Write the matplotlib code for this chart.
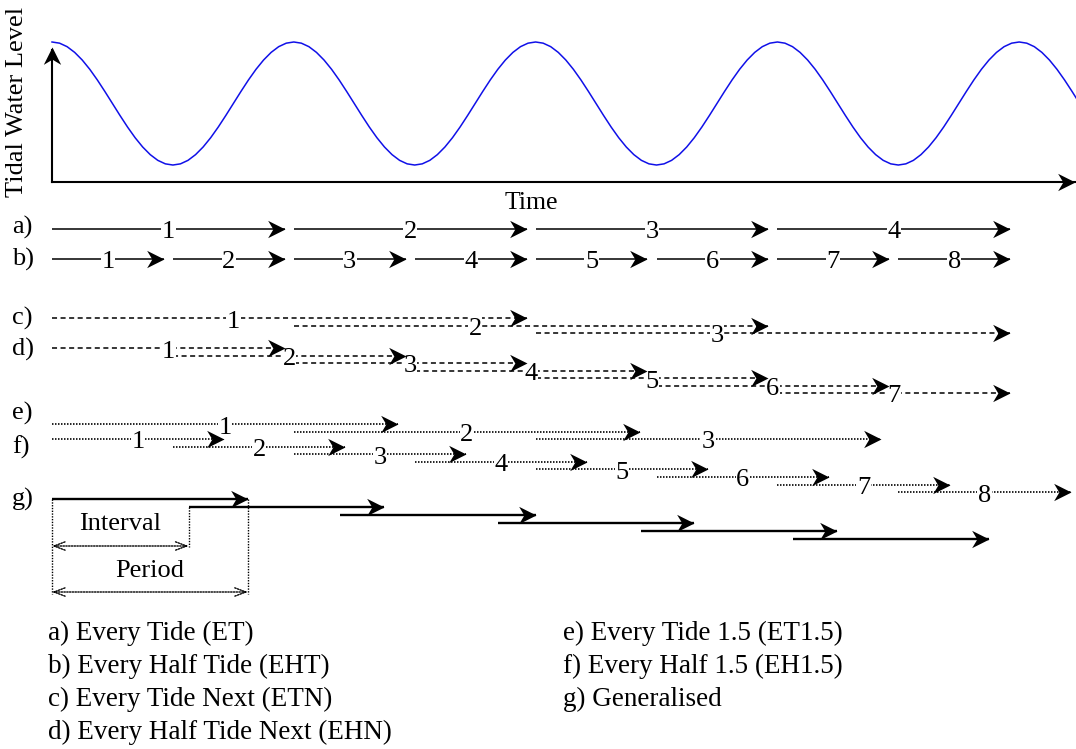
import numpy as np
import matplotlib
matplotlib.use("Agg")
import matplotlib.pyplot as plt
from matplotlib.path import Path
from matplotlib.markers import MarkerStyle

plt.rcParams['font.family'] = ['Liberation Serif', 'DejaVu Serif']

# ---------------- data (time in half-tide units, 0 = first high water) -------------
# one tidal cycle (high -> low -> high), sampled every 1/16 half-tide
tide_cycle_level = [1.0, 0.981, 0.924, 0.831, 0.707, 0.556, 0.383, 0.195,
                    0.0, -0.195, -0.383, -0.556, -0.707, -0.831, -0.924, -0.981,
                    -1.0, -0.981, -0.924, -0.831, -0.707, -0.556, -0.383, -0.195,
                    0.0, 0.195, 0.383, 0.556, 0.707, 0.831, 0.924, 0.981]
tide_cycle_length = 2.0   # half-tides per tidal cycle
n_cycles = 5

a_starts = [0, 2, 4, 6]
a_span = 2
a_labels = ['1', '2', '3', '4']

b_starts = [0, 1, 2, 3, 4, 5, 6, 7]
b_span = 1
b_labels = ['1', '2', '3', '4', '5', '6', '7', '8']

c_starts = [0, 2, 4]
c_span = 4
c_label_offset = 1.5
c_labels = ['1', '2', '3']

d_starts = [0, 1, 2, 3, 4, 5, 6]
d_span = 2
d_labels = ['1', '2', '3', '4', '5', '6', '7']

e_starts = [0, 2, 4]
e_span = 3
e_labels = ['1', '2', '3']

f_starts = [0, 1, 2, 3, 4, 5, 6, 7]
f_span = 1.5
f_labels = ['1', '2', '3', '4', '5', '6', '7', '8']

g_starts = [0, 1.13, 2.38, 3.69, 4.87, 6.13]
g_span = 1.62
g_interval = 1.13
g_period = 1.62

legend_left = ['a) Every Tide (ET)', 'b) Every Half Tide (EHT)',
               'c) Every Tide Next (ETN)', 'd) Every Half Tide Next (EHN)']
legend_right = ['e) Every Tide 1.5 (ET1.5)', 'f) Every Half 1.5 (EH1.5)',
                'g) Generalised']

# ---------------- layout ----------------
W, H = 1076, 749
PX0, UNIT = 52, 120.9
xmin, xmax = -PX0 / UNIT, (W - PX0) / UNIT
FS = 19
GAP = 0.075

fig = plt.figure(figsize=(W / 100, H / 100), dpi=100)
ax = fig.add_axes([0, 0, 1, 1])
ax.set_xlim(xmin, xmax)
ax.set_ylim(H, 0)
ax.axis('off')

# tide axes
axis_y = 182
axt = fig.add_axes([0, (H - axis_y) / H, 1, 152 / H])
axt.set_xlim(xmin, xmax)
axt.set_ylim(-1.276, 1.195)
axt.axis('off')
n_s = len(tide_cycle_level)
t = []
lev = []
for c in range(n_cycles):
    for k, l in enumerate(tide_cycle_level):
        t.append(tide_cycle_length * (c + k / n_s))
        lev.append(l)
t.append(tide_cycle_length * n_cycles)
lev.append(tide_cycle_level[0])
axt.plot(t, lev, color='#1010e8', lw=1.1, zorder=2)

head_path = Path([(0, 0), (-1, 0.5), (-0.7, 0), (-1, -0.5), (0, 0)],
                 [Path.MOVETO, Path.LINETO, Path.LINETO, Path.LINETO, Path.CLOSEPOLY])
HEAD = MarkerStyle(head_path)
UP = MarkerStyle(head_path).rotated(deg=90)
MS = 25


def arrow(x0, x1, y, ls='-', lw=1.1, ms=MS):
    ax.plot([x0, x1], [y, y], color='k', lw=lw, ls=ls, solid_capstyle='butt',
            dash_capstyle='butt', zorder=2)
    ax.plot([x1], [y], marker=HEAD, ms=ms, color='k', mew=0, zorder=6)


def num(x, y, s):
    ax.text(x, y + 9.5, s, fontsize=FS, ha='center', va='baseline', zorder=4,
            bbox=dict(facecolor='white', edgecolor='none', pad=0.3))


# axes of the tide plot
ax.plot([0, 0], [axis_y, 50], color='k', lw=1.5, zorder=2)
ax.plot([0], [47], marker=UP, ms=MS, color='k', mew=0, zorder=6)
ax.plot([0, xmax], [axis_y, axis_y], color='k', lw=1.5, zorder=2)
ax.plot([xmax - 0.005], [axis_y], marker=HEAD, ms=MS, color='k', mew=0, zorder=6)
ax.text(-35 / UNIT, 102, 'Tidal Water Level', rotation=90, fontsize=FS,
        ha='center', va='center')
ax.text((531 - PX0) / UNIT, 203, 'Time', fontsize=18.5, ha='center', va='center')

# row letters
for lab, y in zip(['a)', 'b)', 'c)', 'd)', 'e)', 'f)', 'g)'],
                  [227, 259, 318, 349, 413, 447, 499]):
    ax.text(-40 / UNIT, y, lab, fontsize=FS, ha='left', va='center')

DASH = (0, (3.3, 2.3))
DOT = (0, (0.9, 0.9))

# a)
for s, lab in zip(a_starts, a_labels):
    e = s + a_span - GAP
    arrow(s, e, 229)
    num((s + e) / 2, 229, lab)
# b)
for s, lab in zip(b_starts, b_labels):
    e = s + b_span - GAP
    arrow(s, e, 259)
    num((s + e) / 2, 259, lab)
# c)
for i, (s, lab) in enumerate(zip(c_starts, c_labels)):
    y = 318 + 7.5 * i
    e = s + c_span - GAP
    arrow(s, e, y, ls=DASH)
    num(s + c_label_offset, y, lab)
# d)
for i, (s, lab) in enumerate(zip(d_starts, d_labels)):
    y = 348 + 7.5 * i
    e = s + d_span - GAP
    arrow(s, e, y, ls=DASH)
    num((s + e) / 2, y, lab)
# e)
for i, (s, lab) in enumerate(zip(e_starts, e_labels)):
    y = 424 + 7.5 * i
    e = s + e_span - 0.14
    arrow(s, e, y, ls=DOT, lw=1.2)
    num((s + e) / 2, y, lab)
# f)
for i, (s, lab) in enumerate(zip(f_starts, f_labels)):
    y = 439 + 7.6 * i
    e = s + f_span - GAP
    arrow(s, e, y, ls=DOT, lw=1.2)
    num((s + e) / 2, y, lab)
# g)
g_y = [499 + 8 * i for i in range(len(g_starts))]
for s, y in zip(g_starts, g_y):
    arrow(s, s + g_span, y, lw=1.7)

# interval / period bracket
dot_kw = dict(color='k', lw=1.0, ls=(0, (1, 1)), zorder=2)
ax.plot([0, 0], [g_y[0], 594], **dot_kw)
ax.plot([g_interval, g_interval], [g_y[1], 547], **dot_kw)
ax.plot([g_period, g_period], [g_y[0], 594], **dot_kw)
for xe, y in [(g_interval, 546), (g_period, 592)]:
    ax.annotate('', xy=(0, y), xytext=(xe, y),
                arrowprops=dict(arrowstyle='<->,head_length=0.8,head_width=0.3',
                                ls=(0, (1, 1)), lw=1.0, color='k',
                                shrinkA=0, shrinkB=0))
ax.text(g_interval / 2, 524, 'Interval', fontsize=FS, ha='center', va='center')
ax.text(g_period / 2, 571, 'Period', fontsize=FS, ha='center', va='center')

# legend
LFS = 19.5
for i, s in enumerate(legend_left):
    ax.text(-4 / UNIT, 633 + 33.3 * i, s, fontsize=LFS, ha='left', va='center')
for i, s in enumerate(legend_right):
    ax.text((563 - PX0) / UNIT, 633 + 33.3 * i, s, fontsize=LFS, ha='left', va='center')

fig.savefig('out.png', dpi=100)
